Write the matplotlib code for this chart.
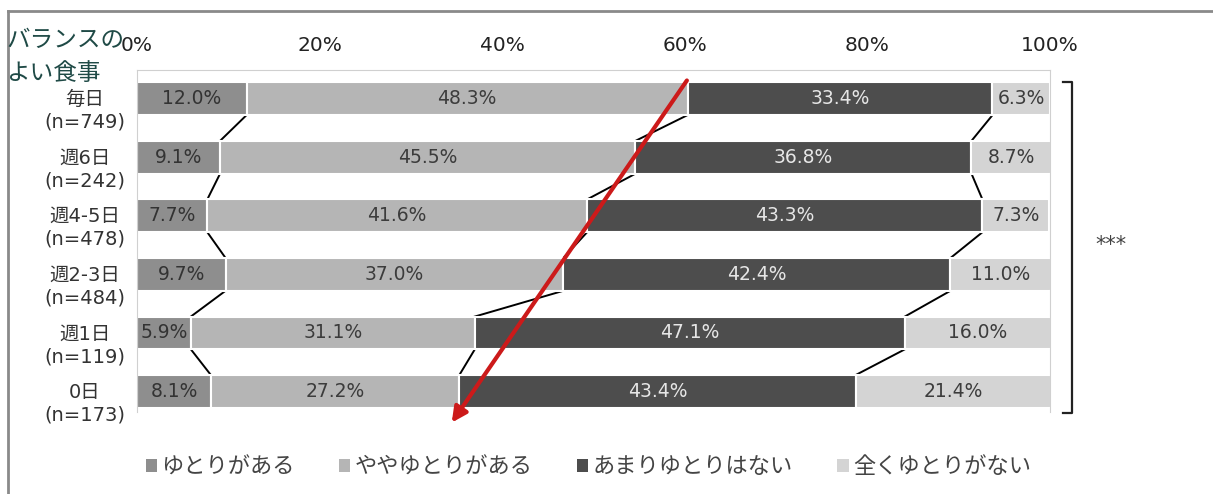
import matplotlib.pyplot as plt
import numpy as np
from matplotlib.patches import Patch
from matplotlib.lines import Line2D

plt.rcParams["font.family"] = ["DejaVu Sans", "Noto Sans CJK JP"]

categories = ["毎日\n(n=749)", "週6日\n(n=242)", "週4-5日\n(n=478)",
              "週2-3日\n(n=484)", "週1日\n(n=119)", "0日\n(n=173)"]
series_names = ["ゆとりがある", "ややゆとりがある", "あまりゆとりはない", "全くゆとりがない"]
yutori_aru = [12.0, 9.1, 7.7, 9.7, 5.9, 8.1]
yaya_aru = [48.3, 45.5, 41.6, 37.0, 31.1, 27.2]
amari_nai = [33.4, 36.8, 43.3, 42.4, 47.1, 43.4]
mattaku_nai = [6.3, 8.7, 7.3, 11.0, 16.0, 21.4]
xticks = [0, 20, 40, 60, 80, 100]

colors = ["#8e8e8e", "#b5b5b5", "#4d4d4d", "#d4d4d4"]
text_colors = ["#333333", "#3c3c3c", "#e6e6e6", "#3c3c3c"]

W, H = 1213, 494
fig = plt.figure(figsize=(W / 100, H / 100), dpi=100)
fig.patch.set_facecolor("white")

# axes box in pixel terms: 0% at x=137, 100% at x=1050, top y=70, bottom y=412
ax = fig.add_axes([137 / W, 1 - 412 / H, (1050 - 137) / W, (412 - 70) / H])

data = np.array([yutori_aru, yaya_aru, amari_nai, mattaku_nai])
y = np.arange(len(categories))
bar_h = 0.56
left = np.zeros(len(categories))
for k in range(len(series_names)):
    ax.barh(y, data[k], left=left, height=bar_h, color=colors[k],
            edgecolor="white", linewidth=1.5, label=series_names[k], zorder=2)
    for i, v in enumerate(data[k]):
        ax.text(left[i] + v / 2, y[i], f"{v:.1f}%", ha="center", va="center",
                fontsize=13.5, color=text_colors[k], zorder=3)
    left = left + data[k]

# series lines between adjacent bars
cum = np.cumsum(data, axis=0)
for k in range(3):
    for i in range(len(categories) - 1):
        ax.plot([cum[k][i], cum[k][i + 1]],
                [y[i] + bar_h / 2, y[i + 1] - bar_h / 2],
                color="black", lw=1.4, zorder=1)

ax.set_xlim(0, 100)
ax.set_ylim(5 + 0.35, -0.49)
ax.xaxis.tick_top()
ax.set_xticks(xticks)
ax.set_xticklabels([f"{t}%" for t in xticks], fontsize=14.5, color="#222222")
ax.tick_params(axis="x", length=0, pad=11)
ax.set_yticks([])
for s in ax.spines.values():
    s.set_color("#d0d0d0")
ax.spines["bottom"].set_visible(False)

for i, c in enumerate(categories):
    ax.text(-1.3, y[i] + 0.21, c, ha="right", va="center", fontsize=14,
            color="#333333", multialignment="center", linespacing=1.25)

# red trend arrow
ax.annotate("", xy=(34.3, 5.57), xytext=(60.4, -0.35),
            arrowprops=dict(arrowstyle="-|>,head_length=0.9,head_width=0.45",
                            color="#cc1a1a", lw=3),
            annotation_clip=False, zorder=5)

# significance bracket
bx0, bx1 = 1063 / W, 1072 / W
yt, yb = 1 - 82 / H, 1 - 413 / H
fig.add_artist(Line2D([bx0, bx1, bx1, bx0], [yt, yt, yb, yb],
                      color="#222222", lw=1.6))
fig.text(1111 / W, 1 - 245 / H, "***", ha="center", va="center",
         fontsize=15, color="#444444")

# title
fig.text(6 / W, 1 - 40 / H, "バランスの", ha="left", va="center",
         fontsize=17, color="#1f4a46")
fig.text(6 / W, 1 - 73 / H, "よい食事", ha="left", va="center",
         fontsize=17, color="#1f4a46")

# outer frame lines
fig.add_artist(Line2D([8 / W, 1], [1 - 11 / H, 1 - 11 / H], color="#8a8a8a", lw=2))
fig.add_artist(Line2D([8 / W, 8 / W], [1 - 11 / H, 0], color="#8a8a8a", lw=2))

handles = [Patch(facecolor=c, edgecolor="none") for c in colors]
fig.legend(handles, series_names, loc="center", bbox_to_anchor=(0.485, 1 - 467 / H),
           ncol=4, frameon=False, fontsize=16, handlelength=0.5, handleheight=0.5,
           handletextpad=0.2, columnspacing=2.0, labelcolor="#444444")

fig.savefig("out.png", dpi=100)
